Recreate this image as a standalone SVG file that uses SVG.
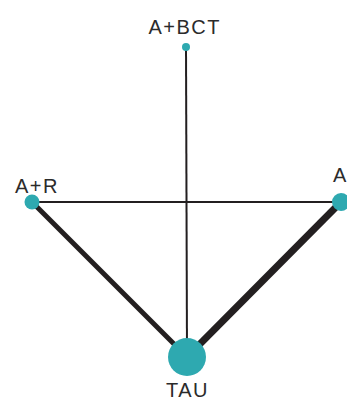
<svg xmlns="http://www.w3.org/2000/svg" width="347" height="399" viewBox="0 0 347 399">
<style>
.lbl{font-family:"Liberation Sans",Arial,sans-serif;font-size:20px;fill:#2b2b2b;letter-spacing:1.5px}
.node{fill:#2ea9b0}
.edge{stroke:#231f20;fill:none;stroke-linecap:butt}
</style>
<rect width="347" height="399" fill="#ffffff"/>
<g id="connectors">
<line class="edge" x1="186" y1="47" x2="187" y2="357" stroke-width="2"/>
<line class="edge" x1="32" y1="202" x2="341" y2="202" stroke-width="2"/>
<line class="edge" x1="32" y1="202" x2="187" y2="357" stroke-width="5"/>
<line class="edge" x1="341" y1="202" x2="187" y2="357" stroke-width="7"/>
</g>
<g id="node-abct"><circle class="node" cx="186" cy="47" r="4"/><text class="lbl" x="148.5" y="34">A+BCT</text></g>
<g id="node-ar"><circle class="node" cx="32" cy="202" r="7.5"/><text class="lbl" x="15" y="193">A+R</text></g>
<g id="node-a"><circle class="node" cx="341" cy="202" r="9"/><text class="lbl" x="333" y="182">A</text></g>
<g id="node-tau"><circle class="node" cx="187" cy="357" r="19"/><text class="lbl" x="166" y="397">TAU</text></g>
</svg>
